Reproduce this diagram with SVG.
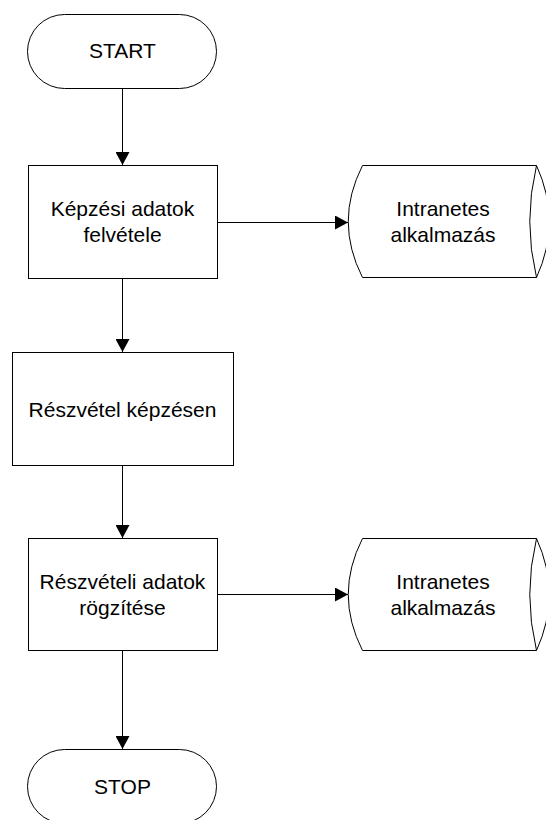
<svg xmlns="http://www.w3.org/2000/svg" width="546" height="820" viewBox="0 0 546 820">
  <style>
    .shape { fill: #ffffff; stroke: #000000; stroke-width: 1; }
    .edge { fill: none; stroke: #000000; stroke-width: 1; }
    .label { font-family: "Liberation Sans", Arial, sans-serif; font-size: 21px; fill: #000000; text-anchor: middle; }
  </style>
  <defs>
    <marker id="arrow" viewBox="0 0 13 14" refX="13" refY="7" markerWidth="13" markerHeight="14" markerUnits="userSpaceOnUse" orient="auto">
      <path d="M0,0 L13,7 L0,14 Z" fill="#000000"/>
    </marker>
  </defs>
  <rect width="546" height="820" fill="#ffffff"/>

  <!-- connectors -->
  <g id="connectors">
    <line class="edge" x1="122.5" y1="89" x2="122.5" y2="165" marker-end="url(#arrow)"/>
    <line class="edge" x1="217" y1="222.5" x2="348" y2="222.5" marker-end="url(#arrow)"/>
    <line class="edge" x1="122.5" y1="278" x2="122.5" y2="352" marker-end="url(#arrow)"/>
    <line class="edge" x1="122.5" y1="466" x2="122.5" y2="538" marker-end="url(#arrow)"/>
    <line class="edge" x1="217" y1="594.5" x2="348" y2="594.5" marker-end="url(#arrow)"/>
    <line class="edge" x1="122.5" y1="651" x2="122.5" y2="749" marker-end="url(#arrow)"/>
  </g>

  <!-- start terminal -->
  <g id="start">
    <rect class="shape" x="27.5" y="14.5" width="189" height="74" rx="37" ry="37"/>
    <text class="label" x="122.5" y="57.5">START</text>
  </g>

  <!-- process: recording training data -->
  <g id="kepzesi-adatok">
    <rect class="shape" x="28.5" y="165.5" width="189" height="113"/>
    <text class="label" x="122.5" y="216">Képzési adatok</text>
    <text class="label" x="122.5" y="241.5">felvétele</text>
  </g>

  <!-- stored data: intranet application (1) -->
  <g id="intranet-1">
    <path class="shape" d="M362.5,165.5 L536.5,165.5 Q523,221.5 536.5,277.5 L362.5,277.5 Q334,221.5 362.5,165.5 Z"/>
    <path class="edge" d="M536.5,165.5 Q562,221.5 536.5,277.5"/>
    <text class="label" x="443" y="216">Intranetes</text>
    <text class="label" x="443" y="241.5">alkalmazás</text>
  </g>

  <!-- process: attending training -->
  <g id="reszvetel">
    <rect class="shape" x="12.5" y="352.5" width="221" height="113"/>
    <text class="label" x="122.5" y="416.5">Részvétel képzésen</text>
  </g>

  <!-- process: recording attendance data -->
  <g id="reszveteli-adatok">
    <rect class="shape" x="28.5" y="538.5" width="189" height="112"/>
    <text class="label" x="122.5" y="589">Részvételi adatok</text>
    <text class="label" x="122.5" y="614.5">rögzítése</text>
  </g>

  <!-- stored data: intranet application (2) -->
  <g id="intranet-2">
    <path class="shape" d="M362.5,538.5 L536.5,538.5 Q523,594.5 536.5,650.5 L362.5,650.5 Q334,594.5 362.5,538.5 Z"/>
    <path class="edge" d="M536.5,538.5 Q562,594.5 536.5,650.5"/>
    <text class="label" x="443" y="589">Intranetes</text>
    <text class="label" x="443" y="614.5">alkalmazás</text>
  </g>

  <!-- stop terminal -->
  <g id="stop">
    <rect class="shape" x="27.5" y="749.5" width="189" height="74" rx="37" ry="37"/>
    <text class="label" x="122.5" y="793.5">STOP</text>
  </g>
</svg>
